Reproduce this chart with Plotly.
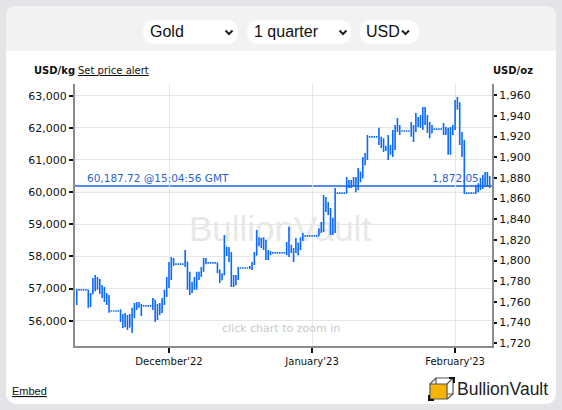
import pandas as pd
import plotly.graph_objects as go

# Gold, half-day OHLC bars in USD/kg (weekends and holidays are flat bars)
bar_start = "2022-11-11"
bar_step = "12h"

opens = [
    56550, 56960, 56960, 56960, 56960,
    56960, 56580, 56830, 57270, 57170, 57240, 56920, 56770, 56640, 56740,
    56300, 56300, 56300, 56300,
    56300, 56080, 55870, 56150, 55800, 56080, 56270, 56490, 56520, 56460,
    56460, 56460, 56460, 56460,
    56460, 56640, 56150, 56460, 56400, 56640, 56890, 57270, 57730, 57890,
    57760, 57760, 57760, 57760,
    57760, 57830, 57110, 56890, 57140, 57210, 57390, 57420, 57580, 57830,
    57800, 57800, 57800, 57800,
    57800, 57580, 57270, 57420, 58290, 58140, 57950, 57270, 57110, 57330,
    57640, 57640, 57640, 57640,
    57640, 57640, 57760, 58040, 58510, 58450, 58360, 58480, 58010, 58110,
    58110, 58110, 58110, 58110, 58110, 58110,
    58110, 58360, 58260, 58200, 58140, 58420, 58260, 58510,
    58640, 58640, 58640, 58640, 58640, 58640,
    58640, 58820, 58980, 59600, 59600, 59380, 58880, 59040,
    59970, 59970, 59970, 59970,
    59970, 60280, 60220, 60280, 60310, 60130, 60630, 60440, 61000, 61060,
    61720, 61720, 61720, 61720,
    61720, 61620, 61560, 61370, 61340, 61310, 61250, 61650, 62000, 62030,
    61900, 61900, 61900, 61900,
    61900, 61930, 62000, 62310, 62120, 62090, 62560, 62240, 62090, 61840,
    61960, 61960, 61960, 61960,
    61960, 62000, 61840, 61310, 61930, 62030, 62770, 62710, 61620, 61310,
    59970, 59970, 59970, 59970,
    59970, 60130, 60160, 60310, 60190, 60500, 60380,
]
highs = [
    56990, 56960, 56960, 56960, 56960,
    56960, 56860, 57330, 57420, 57360, 57300, 57110, 57050, 56860, 56800,
    56300, 56300, 56300, 56300,
    56360, 56210, 56240, 56180, 56210, 56400, 56550, 56580, 56580, 56520,
    56460, 56460, 56460, 56460,
    56710, 56640, 56520, 56550, 56710, 56960, 57360, 57830, 57980, 57950,
    57760, 57760, 57760, 57760,
    58200, 57830, 57520, 57210, 57360, 57520, 57520, 57670, 57950, 57950,
    57800, 57800, 57800, 57800,
    57800, 57580, 57480, 58670, 58290, 58290, 58140, 57420, 57420, 57670,
    57640, 57640, 57640, 57640,
    57700, 57830, 58140, 58820, 58600, 58570, 58600, 58510, 58200, 58170,
    58110, 58110, 58110, 58110, 58110, 58110,
    58450, 58920, 58360, 58260, 58570, 58420, 58600, 58730,
    58640, 58640, 58640, 58640, 58640, 58640,
    58880, 59070, 59910, 59850, 59690, 59510, 59200, 60130,
    59970, 59970, 59970, 59970,
    60470, 60380, 60380, 60470, 60470, 60750, 60630, 61090, 61220, 61780,
    61720, 61720, 61720, 61720,
    62000, 61720, 61680, 61440, 61780, 61470, 61930, 62090, 62310, 62090,
    61900, 61900, 61900, 61900,
    62180, 62090, 62460, 62340, 62400, 62650, 62650, 62400, 62180, 62090,
    61960, 61960, 61960, 61960,
    62150, 62030, 62000, 62030, 62090, 62870, 62960, 62800, 61870, 61620,
    59970, 59970, 59970, 59970,
    60220, 60280, 60440, 60530, 60630, 60630, 60500,
]
lows = [
    56490, 56960, 56960, 56960, 56960,
    56400, 56430, 56830, 56920, 56960, 56830, 56710, 56580, 56490, 56250,
    56300, 56300, 56300, 56300,
    55960, 55770, 55800, 55710, 55800, 55620, 56080, 56330, 56400, 56150,
    56460, 56460, 56460, 56460,
    56330, 55960, 56020, 56180, 56240, 56490, 56740, 57020, 57270, 57700,
    57760, 57760, 57760, 57760,
    57670, 56960, 56800, 56860, 56960, 56960, 57270, 57360, 57520, 57760,
    57800, 57800, 57800, 57800,
    57480, 57170, 57270, 57420, 58010, 57830, 57050, 57050, 57110, 57270,
    57640, 57640, 57640, 57640,
    57610, 57580, 57730, 58040, 58320, 58260, 58200, 57890, 57890, 58040,
    58110, 58110, 58110, 58110, 58110, 58110,
    58040, 57980, 58110, 57830, 58110, 58040, 58200, 58480,
    58640, 58640, 58640, 58640, 58640, 58640,
    58640, 58730, 58760, 59380, 59290, 58670, 58670, 58730,
    59970, 59970, 59970, 59970,
    59970, 60130, 60130, 60160, 60000, 60070, 60310, 60440, 60840, 61000,
    61720, 61720, 61720, 61720,
    61470, 61370, 61250, 61280, 61000, 61160, 61090, 61310, 61870, 61780,
    61900, 61900, 61900, 61900,
    61720, 61560, 61870, 62030, 62000, 61930, 62090, 61840, 61680, 61840,
    61960, 61960, 61960, 61960,
    61780, 61780, 61160, 61160, 61780, 61930, 62560, 61470, 61090, 59940,
    59970, 59970, 59970, 59970,
    59940, 60000, 60070, 60100, 60160, 60160, 60130,
]
closes = [
    56960, 56960, 56960, 56960, 56960,
    56580, 56830, 57270, 57170, 57240, 56920, 56770, 56640, 56740, 56300,
    56300, 56300, 56300, 56300,
    56080, 55870, 56150, 55800, 56080, 56270, 56490, 56520, 56460, 56460,
    56460, 56460, 56460, 56460,
    56640, 56150, 56460, 56400, 56640, 56890, 57270, 57730, 57890, 57760,
    57760, 57760, 57760, 57760,
    57830, 57110, 56890, 57140, 57210, 57390, 57420, 57580, 57830, 57800,
    57800, 57800, 57800, 57800,
    57580, 57270, 57420, 58290, 58140, 57950, 57270, 57110, 57330, 57640,
    57640, 57640, 57640, 57640,
    57640, 57760, 58040, 58510, 58450, 58360, 58480, 58010, 58110, 58110,
    58110, 58110, 58110, 58110, 58110, 58110,
    58360, 58260, 58200, 58140, 58420, 58260, 58510, 58640,
    58640, 58640, 58640, 58640, 58640, 58640,
    58820, 58980, 59600, 59600, 59380, 58880, 59040, 59970,
    59970, 59970, 59970, 59970,
    60280, 60220, 60280, 60310, 60130, 60630, 60440, 61000, 61060, 61720,
    61720, 61720, 61720, 61720,
    61620, 61560, 61370, 61340, 61310, 61250, 61650, 62000, 62030, 61900,
    61900, 61900, 61900, 61900,
    61930, 62000, 62310, 62120, 62090, 62560, 62240, 62090, 61840, 61960,
    61960, 61960, 61960, 61960,
    62000, 61840, 61310, 61930, 62030, 62770, 62710, 61620, 61310, 59970,
    59970, 59970, 59970, 59970,
    60130, 60160, 60310, 60190, 60500, 60380, 60187.72,
]

month_ticks = ["2022-12-01", "2023-01-01", "2023-02-01"]
month_labels = ["December'22", "January'23", "February'23"]
quote_time = "15:04:56 GMT"

OZ_PER_KG = 32.1507466
kg_range = [55213, 63364]
x_range = ["2022-11-10 15:00", "2023-02-09 00:00"]

BAR_BLUE = "#0a69ff"
LINE_BLUE = "#1f63e6"
TEXT_BLUE = "#2f5fd6"
AXIS_GREY = "#8c8c8c"
GRID = "#e6e6e6"
PAGE_GREY = "#e3e4e8"

dates = pd.date_range(bar_start, periods=len(closes), freq=bar_step)
last = closes[-1]

# page geometry (pixels) -> paper coordinates
W, H = 562, 410
L, R, T, B = 75, 70, 84, 64
PW, PH = W - L - R, H - T - B


def px(x):
    return (x - L) / PW


def py(y):
    return (H - B - y) / PH


def rounded(x0, y0, x1, y1, r, top_only=False):
    rb = 0 if top_only else r
    return " ".join([
        f"M {px(x0 + r)},{py(y0)}",
        f"L {px(x1 - r)},{py(y0)}",
        f"Q {px(x1)},{py(y0)} {px(x1)},{py(y0 + r)}",
        f"L {px(x1)},{py(y1 - rb)}",
        f"Q {px(x1)},{py(y1)} {px(x1 - rb)},{py(y1)}",
        f"L {px(x0 + rb)},{py(y1)}",
        f"Q {px(x0)},{py(y1)} {px(x0)},{py(y1 - rb)}",
        f"L {px(x0)},{py(y0 + r)}",
        f"Q {px(x0)},{py(y0)} {px(x0 + r)},{py(y0)} Z",
    ])


def poly(points):
    return "M " + " L ".join(f"{px(x)},{py(y)}" for x, y in points) + " Z"


fig = go.Figure()

fig.add_trace(go.Ohlc(
    x=dates, open=opens, high=highs, low=lows, close=closes,
    increasing=dict(line=dict(color=BAR_BLUE, width=1.6)),
    decreasing=dict(line=dict(color=BAR_BLUE, width=1.6)),
    tickwidth=0.33, hoverinfo="skip", showlegend=False,
))
# keeps the USD/oz axis alive
fig.add_trace(go.Scatter(
    x=[dates[-1]], y=[last / OZ_PER_KG], yaxis="y2", mode="markers",
    marker=dict(opacity=0), hoverinfo="skip", showlegend=False,
))

paper = dict(xref="paper", yref="paper")
shapes = [
    dict(type="path", path=rounded(6, 6, 556, 404, 12), fillcolor="white",
         line=dict(width=0), layer="below", **paper),
    dict(type="path", path=rounded(6, 6, 556, 51, 12, top_only=True), fillcolor="#f2f2f2",
         line=dict(width=0), layer="below", **paper),
]
pills = [(143, 238, "Gold", 147.5, 229), (247, 351, "1 quarter", 251.5, 343), (360, 419, "USD", 364, 405.5)]
annotations = []
for x0, x1, label, tx, cx in pills:
    shapes.append(dict(type="path", path=rounded(x0, 20, x1, 44, 12), fillcolor="white",
                       line=dict(width=0), layer="below", **paper))
    shapes.append(dict(type="path",
                       path=f"M {px(cx - 3.5)},{py(30.5)} L {px(cx)},{py(34)} L {px(cx + 3.5)},{py(30.5)}",
                       line=dict(color="#222", width=2), **paper))
    annotations.append(dict(x=px(tx), y=py(32), text=label, xanchor="left",
                            font=dict(family="Liberation Sans", size=16, color="#111")))

# watermark
shapes.append(dict(type="rect", x0=px(180), x1=px(380), y0=py(205), y1=py(245),
                   line=dict(width=0), fillcolor="rgba(0,0,0,0)", layer="below",
                   label=dict(text="BullionVault", font=dict(family="Liberation Sans", size=35, color="#e8e8e8"),
                              textposition="middle center"), **paper))
# current price line
shapes.append(dict(type="line", xref="paper", x0=0, x1=1, yref="y", y0=last, y1=last,
                   line=dict(color=LINE_BLUE, width=1.5), layer="below"))

# logo cube
shapes += [
    dict(type="path", path=poly([(436, 378), (453, 378), (453, 394), (436, 394)]),
         line=dict(color="#555", width=1.2), fillcolor="rgba(0,0,0,0)", **paper),
    dict(type="path", path=poly([(430, 384), (447, 384), (447, 399), (430, 399)]),
         line=dict(color="#555", width=1.2), fillcolor="#f6b400", **paper),
    dict(type="path", path=f"M {px(430)},{py(384)} L {px(436)},{py(378)} M {px(447)},{py(384)} L {px(453)},{py(378)} "
                           f"M {px(447)},{py(399)} L {px(453)},{py(394)}",
         line=dict(color="#555", width=1.2), **paper),
    dict(type="path", path=f"M {px(449)},{py(378)} L {px(454)},{py(378)} L {px(454)},{py(383)}",
         line=dict(color="#111", width=2), **paper),
    dict(type="path", path=f"M {px(429)},{py(395)} L {px(429)},{py(400)} L {px(434)},{py(400)}",
         line=dict(color="#111", width=2), **paper),
]

ul = "<span style='text-decoration:underline'>{}</span>"
annotations += [
    dict(x=px(32), y=py(70), text="<b>USD/kg</b>", xanchor="left", font=dict(size=10, color="#111")),
    dict(x=px(76), y=py(70), text=ul.format("Set price alert"), xanchor="left", font=dict(size=10, color="#111")),
    dict(x=px(535), y=py(70), text="<b>USD/oz</b>", xanchor="right", font=dict(size=10, color="#111")),
    dict(x=px(280.5), y=py(328), text="click chart to zoom in", xanchor="center",
         font=dict(size=11, color="#c8c8c8")),
    dict(x=px(10), y=py(391), text=ul.format("Embed"), xanchor="left",
         font=dict(family="Liberation Sans", size=11, color="#111")),
    dict(x=px(455), y=py(389), text="BullionVault", xanchor="left",
         font=dict(family="Liberation Sans", size=17.5, color="#222")),
]
for a in annotations:
    a.update(xref="paper", yref="paper", yanchor="middle", showarrow=False)

annotations += [
    dict(xref="paper", yref="y", x=px(85), y=last, yanchor="bottom", xanchor="left", showarrow=False,
         text=f"{last:,.2f} @{quote_time}", font=dict(size=10.5, color=TEXT_BLUE)),
    dict(xref="paper", yref="y", x=px(481), y=last, yanchor="bottom", xanchor="right", showarrow=False,
         text=f"{last / OZ_PER_KG:,.2f}", font=dict(size=10.5, color=TEXT_BLUE)),
]

fig.update_layout(
    width=W, height=H, autosize=False,
    margin=dict(l=L, r=R, t=T, b=B),
    paper_bgcolor=PAGE_GREY, plot_bgcolor="rgba(0,0,0,0)",
    font=dict(family="DejaVu Sans", color="#111"),
    shapes=shapes, annotations=annotations,
    xaxis=dict(
        type="date", range=x_range, tickvals=month_ticks, ticktext=month_labels,
        showgrid=True, gridcolor=GRID, zeroline=False,
        showline=True, linecolor=AXIS_GREY, linewidth=2,
        ticks="outside", ticklen=5, tickwidth=1.5, tickcolor="#111",
        tickfont=dict(size=10, color="#111"), rangeslider=dict(visible=False),
    ),
    yaxis=dict(
        range=kg_range, dtick=1000, tick0=0, tickformat=",d",
        showgrid=True, gridcolor=GRID, zeroline=False,
        showline=True, linecolor=AXIS_GREY, linewidth=2,
        ticks="outside", ticklen=4, tickwidth=2, tickcolor="#111",
        tickfont=dict(size=11, color="#111"),
    ),
    yaxis2=dict(
        overlaying="y", side="right", range=[v / OZ_PER_KG for v in kg_range],
        dtick=20, tick0=0, tickformat=",d", showgrid=False, zeroline=False,
        showline=True, linecolor=AXIS_GREY, linewidth=2,
        ticks="outside", ticklen=3, tickwidth=2, tickcolor="#111",
        tickfont=dict(size=11, color="#111"),
    ),
)

# page has default 8px body margin; drop it so the figure fills the window
page_css = f"document.body.style.margin='0';document.body.style.background='{PAGE_GREY}';"
fig.write_html("out.html", post_script=page_css, config={"displayModeBar": False})
